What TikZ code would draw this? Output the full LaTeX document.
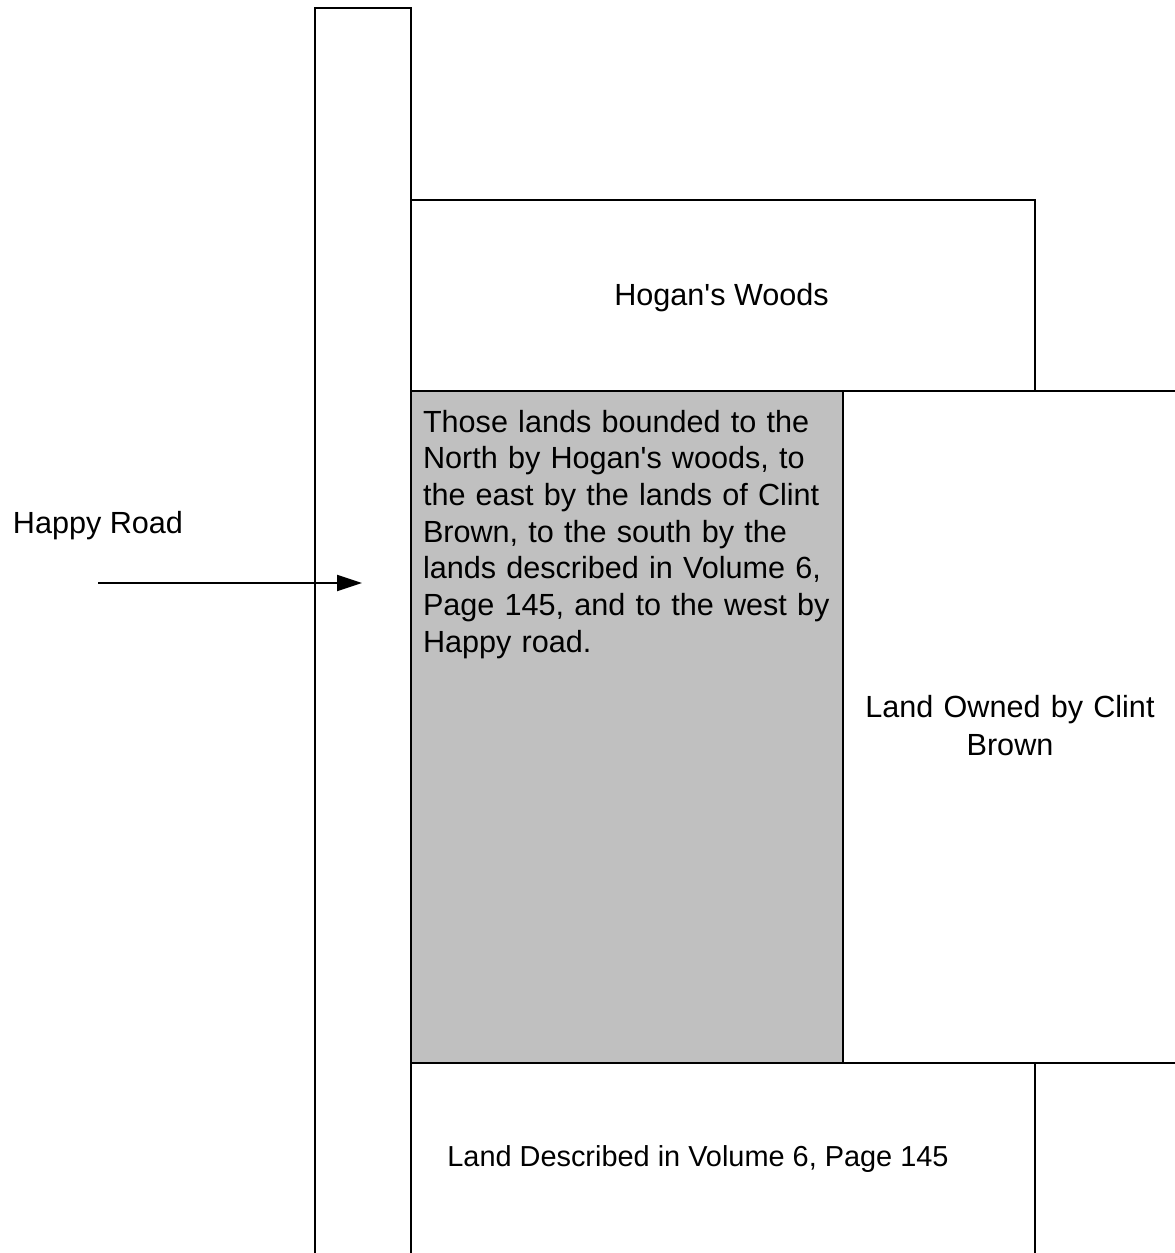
\documentclass[tikz,border=0pt]{standalone}
\usepackage{fontspec}
\setmainfont{Liberation Sans}
\usetikzlibrary{arrows.meta}
\definecolor{parcel}{RGB}{192,192,192}
\newcommand{\sq}{\textquotesingle}
\begin{document}
\begin{tikzpicture}[x=1pt,y=-1pt,line width=2pt,
  lbl/.style={font=\fontsize{30.6}{36.7}\selectfont,inner sep=0pt,anchor=base},
  boundary/.style={draw=black,line width=2pt}]
\useasboundingbox (0,0) rectangle (1175,1253);
% shaded parcel
\fill[parcel] (411,391) rectangle (843,1063);
% Happy Road
\draw[boundary] (315,1253) -- (315,8) -- (411,8) -- (411,1253);
% Hogan's Woods
\draw[boundary] (411,200) -- (1035,200) -- (1035,391);
\draw[boundary] (411,391) -- (1175,391);
% Clint Brown boundary
\draw[boundary] (843,391) -- (843,1063);
\draw[boundary] (411,1063) -- (1175,1063);
% Volume 6 land
\draw[boundary] (1035,1063) -- (1035,1253);
% labels
\node[lbl] (road) at (98,533) {Happy Road};
\node[lbl] (woods) at (721.5,305) {Hogan\sq s Woods};
\node[lbl,anchor=base west,text width=420pt,align=left] (parcelText) at (422,432)
  {Those lands bounded to the\\North by Hogan\sq s woods, to\\the east by the lands of Clint\\Brown, to the south by the\\lands described in Volume 6,\\Page 145, and to the west by\\Happy road.};
\node[lbl,text width=320pt,align=center,font=\fontsize{30.6}{38.5}\selectfont] (clint) at (1010,717) {Land Owned by Clint\\Brown};
\node[lbl,font=\fontsize{28.9}{34}\selectfont] (vol) at (698,1166) {Land Described in Volume 6, Page 145};
% arrow
\coordinate (arrS) at (98,583);
\coordinate (arrE) at (362,583);
\draw[line width=2pt,-{Triangle[length=25pt,width=16pt]}] (arrS) -- (arrE);
\end{tikzpicture}
\end{document}
